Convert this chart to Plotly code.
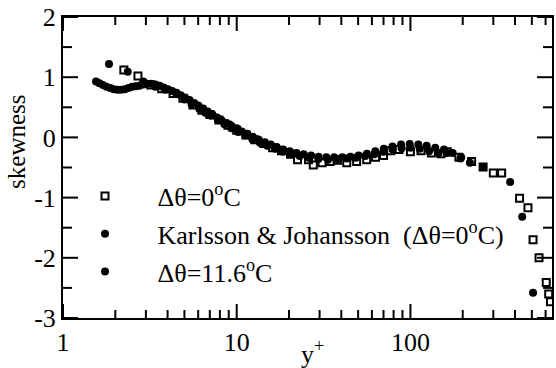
import plotly.graph_objects as go

# Skewness profiles versus wall distance y+
yp_dt0 = [2.24, 2.70, 3.2, 3.7, 4.3, 4.9, 5.6, 6.3, 7.0, 7.9, 8.9, 10.0, 11.3, 12.7, 14.3,
          16.1, 18.1, 20.4, 22.4, 25.9, 27.6, 31.0, 34.5, 38.0, 43.0, 49.0, 56.0, 63.0, 70.0,
          77.0, 86.0, 100, 115, 132, 150, 163, 190, 225, 262, 300, 335, 425, 475, 508, 550,
          605, 625, 640]
sk_dt0 = [1.12, 1.02, 0.87, 0.81, 0.73, 0.65, 0.54, 0.45, 0.38, 0.29, 0.20, 0.12, 0.04, -0.04, -0.10,
          -0.17, -0.22, -0.28, -0.37, -0.37, -0.46, -0.42, -0.40, -0.38, -0.42, -0.40, -0.37, -0.33, -0.30,
          -0.22, -0.20, -0.24, -0.22, -0.26, -0.27, -0.24, -0.33, -0.40, -0.49, -0.59, -0.59, -1.01, -1.17, -1.70, -2.00,
          -2.41, -2.60, -2.73]

yp_kj = [1.55, 1.62, 1.70, 1.78, 1.87, 1.96, 2.06, 2.16, 2.27, 2.38, 2.50, 2.62, 2.75, 2.90, 3.05,
         3.22, 3.40, 3.60, 3.80, 4.02, 4.25, 4.50, 4.76, 5.05, 5.35, 5.68, 6.02, 6.40, 6.80, 7.25,
         7.70, 8.20, 8.75, 9.35, 10.0, 10.7, 11.5, 12.4, 13.4, 14.5, 15.7, 17.0, 18.5, 20.2, 22.1,
         24.3, 26.8, 29.6, 32.8, 36.4, 40.5, 45.1, 50.3, 56.2, 62.8, 70.3, 78.8, 88.3, 99.0, 111,
         124, 139, 156, 175, 196, 220]
sk_kj = [0.93, 0.90, 0.87, 0.84, 0.82, 0.80, 0.79, 0.79, 0.80, 0.82, 0.84, 0.85, 0.86, 0.88, 0.89,
         0.89, 0.88, 0.86, 0.83, 0.80, 0.77, 0.74, 0.70, 0.66, 0.62, 0.57, 0.53, 0.48, 0.43, 0.38,
         0.33, 0.28, 0.24, 0.19, 0.15, 0.10, 0.06, 0.01, -0.04, -0.08, -0.12, -0.16, -0.20, -0.23, -0.26,
         -0.28, -0.30, -0.32, -0.33, -0.33, -0.33, -0.32, -0.30, -0.27, -0.23, -0.19, -0.15, -0.12, -0.11, -0.12,
         -0.14, -0.17, -0.20, -0.26, -0.33, -0.42]

yp_dt116 = [1.84, 2.36, 2.9, 3.4, 3.9, 4.5, 5.0, 5.5, 6.1, 6.6, 7.1, 7.8, 8.5, 9.3, 10.2,
            11.2, 12.3, 13.6, 15.0, 16.6, 18.4, 20.5, 23.0, 26.0, 29.5, 33.5, 38.0, 43.0, 48.5,
            55.0, 62.0, 70.0, 79.0, 89.0, 100, 113, 128, 145, 163, 194, 262, 375, 440, 508]
sk_dt116 = [1.22, 1.09, 0.93, 0.84, 0.79, 0.72, 0.63, 0.55, 0.47, 0.41, 0.36, 0.29, 0.22, 0.15, 0.09,
            0.03, -0.03, -0.09, -0.14, -0.19, -0.24, -0.28, -0.31, -0.34, -0.36, -0.37, -0.36, -0.35, -0.34,
            -0.31, -0.28, -0.24, -0.20, -0.18, -0.17, -0.19, -0.23, -0.26, -0.26, -0.35, -0.49, -0.74, -1.32, -2.58]

x_ticks = [1, 10, 100]
x_labels = ["1", "10", "100"]
x_minor = [2, 3, 4, 5, 6, 7, 8, 9, 20, 30, 40, 50, 60, 70, 80, 90, 200, 300, 400, 500, 600]
y_ticks = [-3, -2, -1, 0, 1, 2]
y_labels = ["-3", "-2", "-1", "0", "1", "2"]
y_minor = [-2.5, -1.5, -0.5, 0.5, 1.5]

FONT = "Liberation Serif"
X_RANGE = [0, 2.815]          # log10 of y+ range
Y_RANGE = [-3, 2]
PLOT_W, PLOT_H = 489, 301
pad = "\u00a0" * 5

fig = go.Figure()

# inward tick marks on all four sides, drawn as short line segments
xs, ys = [], []
y_per_px = (Y_RANGE[1] - Y_RANGE[0]) / PLOT_H
for vals, length in ((x_ticks, 14), (x_minor, 8)):
    d = length * y_per_px
    for v in vals:
        xs += [v, v, None, v, v, None]
        ys += [Y_RANGE[0], Y_RANGE[0] + d, None, Y_RANGE[1], Y_RANGE[1] - d, None]
lx_per_px = (X_RANGE[1] - X_RANGE[0]) / PLOT_W
for vals, length in ((y_ticks, 15), (y_minor, 9)):
    d = length * lx_per_px
    for v in vals:
        xs += [10 ** X_RANGE[0], 10 ** (X_RANGE[0] + d), None,
               10 ** X_RANGE[1], 10 ** (X_RANGE[1] - d), None]
        ys += [v, v, None, v, v, None]
fig.add_trace(go.Scatter(x=xs, y=ys, mode="lines", line=dict(color="black", width=2),
                         showlegend=False, hoverinfo="skip", cliponaxis=False))

fig.add_trace(go.Scatter(
    x=yp_dt0, y=sk_dt0, mode="markers", name=pad + "\u0394\u03b8=0<sup>o</sup>C",
    legendgroup="a",
    marker=dict(symbol="square-open", size=7, color="black", line=dict(width=2, color="black"))))
fig.add_trace(go.Scatter(
    x=yp_kj, y=sk_kj, mode="markers",
    name=pad + "Karlsson & Johansson  (\u0394\u03b8=0<sup>o</sup>C)",
    legendgroup="b",
    marker=dict(symbol="circle", size=8, color="black")))
fig.add_trace(go.Scatter(
    x=yp_dt116, y=sk_dt116, mode="markers", name=pad + "\u0394\u03b8=11.6<sup>o</sup>C",
    legendgroup="c",
    marker=dict(symbol="circle", size=8, color="black")))

fig.update_layout(
    width=556, height=368,
    margin=dict(l=63, r=4, t=17, b=50),
    paper_bgcolor="white", plot_bgcolor="white",
    font=dict(family=FONT, size=26, color="black"),
    showlegend=True,
    legend=dict(x=0.045, y=0.483, xanchor="left", yanchor="top",
                bgcolor="rgba(0,0,0,0)", font=dict(family=FONT, size=26),
                traceorder="grouped", tracegroupgap=1),
    annotations=[
        dict(text="skewness", x=(17 - 63) / PLOT_W, y=0.585,
             xref="paper", yref="paper", xanchor="center", yanchor="middle",
             textangle=-90, showarrow=False, font=dict(family=FONT, size=25)),
        dict(text="y<sup>+</sup>", x=(312 - 63) / PLOT_W, y=-(352 - 318) / PLOT_H,
             xref="paper", yref="paper", xanchor="center", yanchor="middle",
             showarrow=False, font=dict(family=FONT, size=26)),
    ],
    xaxis=dict(
        type="log", range=X_RANGE, automargin=False,
        tickmode="array", tickvals=x_ticks, ticktext=x_labels, ticks="",
        showline=True, linewidth=2, linecolor="black", mirror=True,
        showgrid=False, zeroline=False,
        tickfont=dict(family=FONT, size=26),
    ),
    yaxis=dict(
        range=Y_RANGE, automargin=False,
        tickmode="array", tickvals=y_ticks, ticktext=y_labels, ticks="",
        showline=True, linewidth=2, linecolor="black", mirror=True,
        showgrid=False, zeroline=False,
        tickfont=dict(family=FONT, size=26),
    ),
)

fig.write_html("out.html")
